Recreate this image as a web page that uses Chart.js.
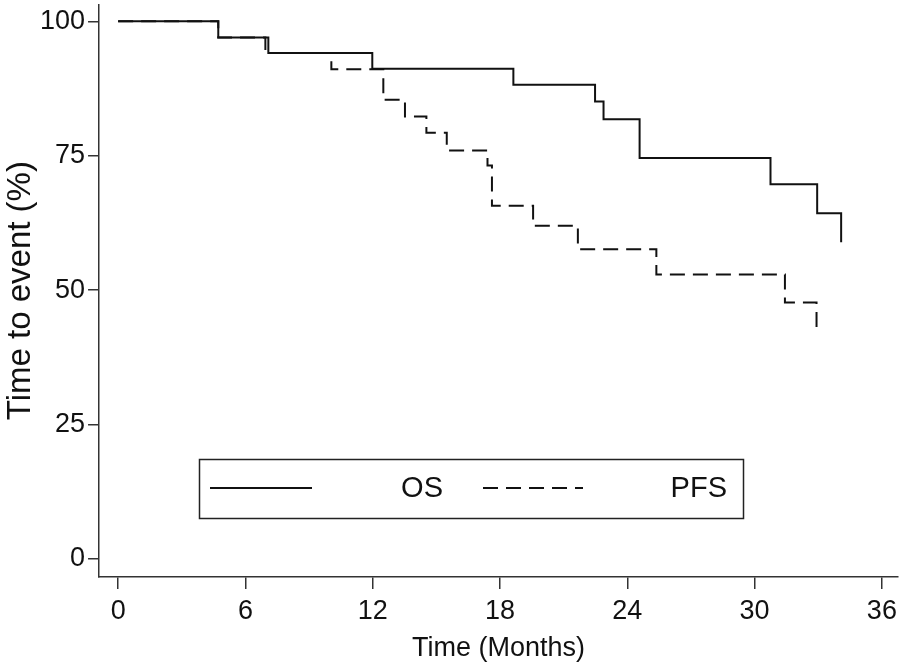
<!DOCTYPE html>
<html>
<head>
<meta charset="utf-8">
<script src="https://cdn.jsdelivr.net/npm/chart.js@4"></script>
<style>
  html, body { margin: 0; padding: 0; background: #fff; }
  #wrap { width: 900px; height: 667px; }
</style>
</head>
<body>
<div id="wrap"><canvas id="myChart"></canvas></div>
<script>
// step times (months) and survival after each step (%)
let osMonths = [0, 4.72, 7.08, 11.98, 18.63, 22.48, 22.88, 24.58, 30.75, 32.95, 34.08];
let osValues = [100, 97.0, 94.1, 91.2, 88.2, 85.1, 81.8, 74.6, 69.7, 64.3, 58.9];
let pfsMonths = [0, 4.72, 6.94, 10.05, 12.5, 13.52, 14.53, 15.49, 17.41, 17.62, 19.56, 21.67, 25.37, 31.43, 32.92];
let pfsValues = [100, 97.0, 94.1, 91.1, 85.4, 82.3, 79.3, 76.0, 73.2, 65.7, 62.0, 57.6, 52.9, 47.7, 42.6];
let xTicks = [0, 6, 12, 18, 24, 30, 36];
let yTicks = [0, 25, 50, 75, 100];

let face = "'Liberation Sans', Arial, sans-serif";
let ink = '#111';

function toPoints(xs, ys) {
  return xs.map((x, i) => ({x: x, y: ys[i]}));
}

// legend drawn as a framed box inside the plot, like the original
let boxLegend = {
  id: 'boxLegend',
  afterDatasetsDraw(chart) {
    let ctx = chart.ctx;
    let sets = chart.data.datasets;
    ctx.save();
    ctx.strokeStyle = '#222';
    ctx.lineWidth = 1.5;
    ctx.strokeRect(199.5, 459.5, 544, 59);
    let rows = [
      {x0: 210, x1: 312, tx: 443},
      {x0: 483, x1: 583, tx: 727}
    ];
    rows.forEach((r, i) => {
      ctx.beginPath();
      ctx.setLineDash(sets[i].borderDash || []);
      ctx.lineWidth = 2;
      ctx.strokeStyle = ink;
      ctx.moveTo(r.x0, 488);
      ctx.lineTo(r.x1, 488);
      ctx.stroke();
      ctx.setLineDash([]);
      ctx.fillStyle = ink;
      ctx.font = '29px ' + face;
      ctx.textAlign = 'right';
      ctx.textBaseline = 'middle';
      ctx.fillText(sets[i].label, r.tx, 489);
    });
    ctx.restore();
  }
};

let ctx = document.getElementById('myChart').getContext('2d');

let chart = new Chart(ctx, {
  type: 'line',
  data: {
    datasets: [{
      label: 'OS',
      data: toPoints(osMonths, osValues),
      borderColor: ink,
      borderWidth: 2,
      stepped: 'before',
      pointRadius: 0
    }, {
      label: 'PFS',
      data: toPoints(pfsMonths, pfsValues),
      borderColor: ink,
      borderWidth: 2,
      borderDash: [15, 8],
      stepped: 'before',
      pointRadius: 0
    }]
  },
  options: {
    responsive: true,
    maintainAspectRatio: false,
    animation: false,
    layout: { padding: { left: 4, right: 2, top: 0, bottom: 5 } },
    plugins: { legend: { display: false }, tooltip: { enabled: false } },
    scales: {
      x: {
        type: 'linear',
        min: -0.9,
        max: 36.76,
        afterBuildTicks: axis => { axis.ticks = xTicks.map(v => ({value: v})); },
        grid: { drawOnChartArea: false, drawTicks: true, tickLength: 12, color: '#333', lineWidth: 1.5 },
        border: { display: true, color: '#333', width: 1.5 },
        ticks: { color: ink, padding: 3, maxRotation: 0, font: { family: face, size: 27, lineHeight: 1.48 } },
        title: { display: true, text: 'Time (Months)', color: ink, padding: 0,
                 font: { family: face, size: 27, lineHeight: 1 } }
      },
      y: {
        min: -3.35,
        max: 103.16,
        afterBuildTicks: axis => { axis.ticks = yTicks.map(v => ({value: v})); },
        grid: { drawOnChartArea: false, drawTicks: true, tickLength: 11, color: '#333', lineWidth: 1.5 },
        border: { display: true, color: '#333', width: 1.5 },
        // tiny lineHeight keeps Chart.js from padding the top of the plot
        ticks: { color: ink, padding: 3, font: { family: face, size: 27, lineHeight: 0.1 } },
        title: { display: true, text: 'Time to event (%)', color: ink, padding: 0,
                 font: { family: face, size: 33, lineHeight: 1 } }
      }
    }
  },
  plugins: [boxLegend]
});
</script>
</body>
</html>
